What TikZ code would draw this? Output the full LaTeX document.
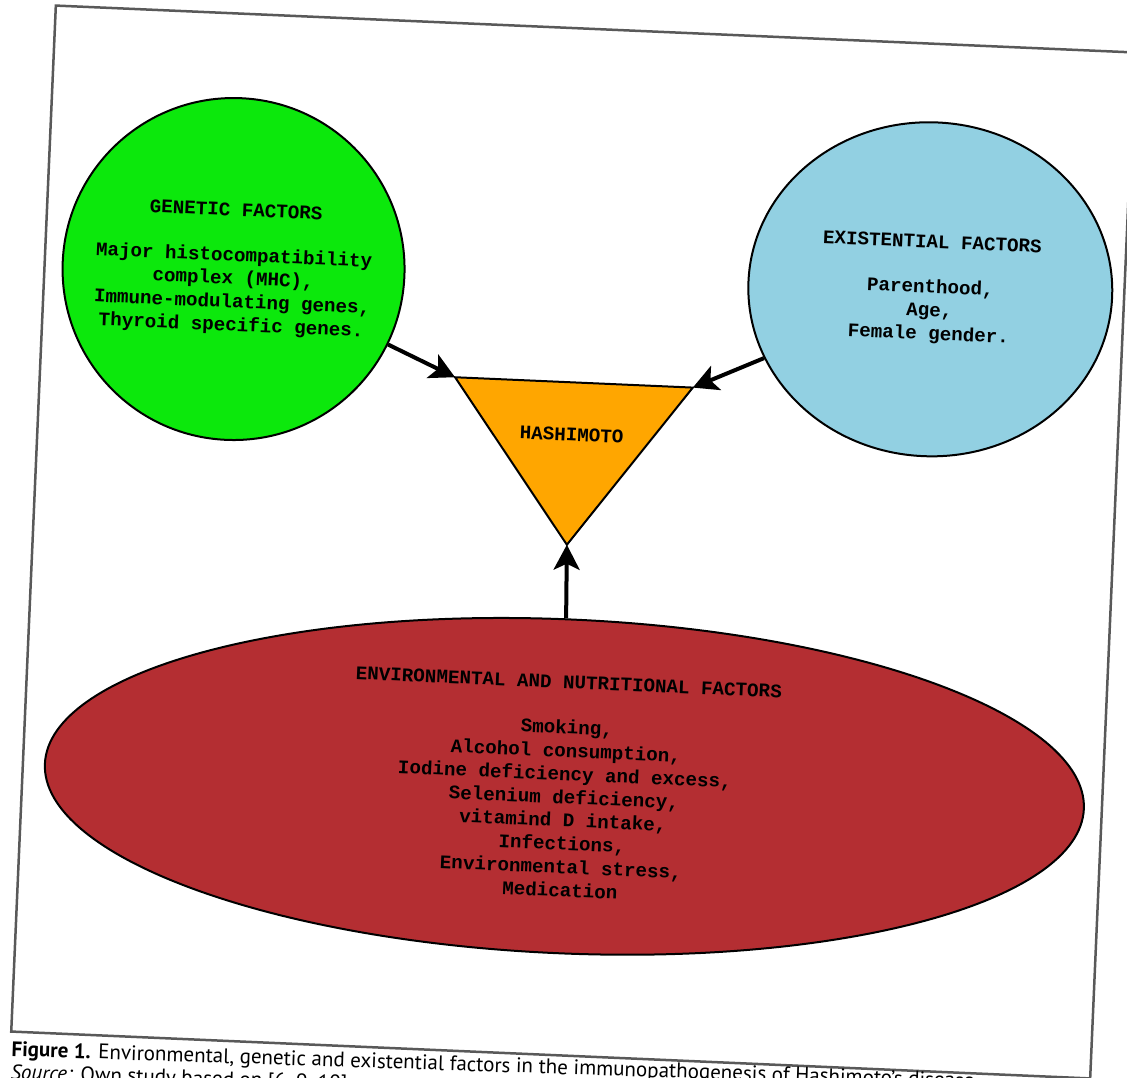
\documentclass[tikz,border=0pt]{standalone}
\usepackage{fontspec}
\setmainfont{PT Sans}
\setmonofont{Liberation Mono}
\usetikzlibrary{shapes.geometric,arrows.meta}

\definecolor{genegreen}{RGB}{12,232,12}
\definecolor{existblue}{RGB}{146,208,226}
\definecolor{hashorange}{RGB}{255,166,0}
\definecolor{envred}{RGB}{180,46,50}

\begin{document}
\begin{tikzpicture}[x=1pt,y=-1pt,
  factor/.style={draw=black,line width=2pt,align=center,inner sep=0pt,
    font=\ttfamily\bfseries\fontsize{19.2}{23.3}\selectfont},
  push/.style={line width=4pt,-{Stealth[length=25pt,width=26pt,inset=6pt]}},
  caption/.style={anchor=base west,inner sep=0pt,rotate=0.6,font=\fontsize{21}{23}\selectfont}]
  \useasboundingbox[fill=white] (0,0) rectangle (1127,1077);
  \begin{scope}[shift={(573,542)},rotate=-2.49,transform shape]
    \draw[line width=2.5pt,black!65] (-540,-513.5) rectangle (540,513.5);

    \node[factor,circle,fill=genegreen,minimum size=342pt] (gen) at (-351,-258)
      {GENETIC FACTORS\\[22pt]
       Major histocompatibility\\ complex (MHC),\\
       Immune-modulating genes,\\ Thyroid specific genes.};
    \node[factor,ellipse,fill=existblue,minimum width=364pt,minimum height=334pt] (exi) at (346,-268)
      {EXISTENTIAL FACTORS\\[22pt] Parenthood,\\ Age,\\ Female gender.};
    \node[factor,ellipse,fill=envred,minimum width=1040pt,minimum height=334pt] (env) at (2,244.5)
      {ENVIRONMENTAL AND NUTRITIONAL FACTORS\\[22pt]
       Smoking,\\ Alcohol consumption,\\ Iodine deficiency and excess,\\
       Selenium deficiency,\\ vitamind D intake,\\ Infections,\\
       Environmental stress,\\ Medication};

    \coordinate (hl) at (-125,-159.5);
    \coordinate (hr) at (113,-159.5);
    \coordinate (hb) at (-6,3);
    \draw[fill=hashorange,line width=2pt] (hl) -- (hr) -- (hb) -- cycle;
    \node[font=\ttfamily\bfseries\fontsize{19.2}{23.3}\selectfont] (hash) at (-6,-107) {HASHIMOTO};

    \draw[push] (gen) -- (hl);
    \draw[push] (exi) -- (hr);
    \draw[push] (env) -- (hb);

    \node[caption] (cap) at (-539,538)
      {\textbf{Figure 1.} Environmental, genetic and existential factors in the immunopathogenesis of Hashimoto's disease};
    \node[caption] (src) at (-539,561)
      {\textit{Source:} Own study based on [6, 9, 10]};
  \end{scope}
\end{tikzpicture}
\end{document}
